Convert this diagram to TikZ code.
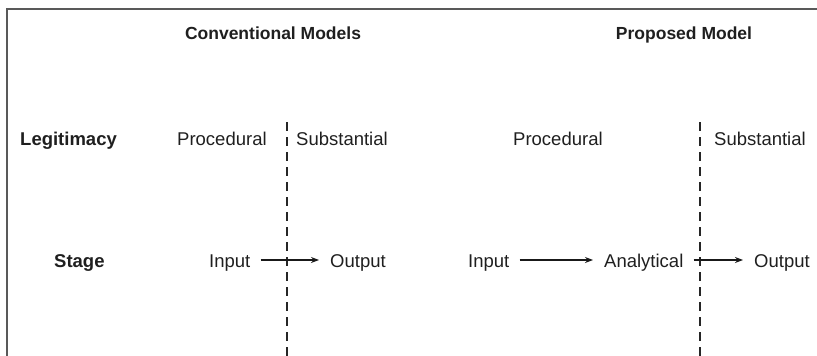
\documentclass[tikz,border=0pt]{standalone}
\usepackage{fontspec}
\setmainfont{Liberation Sans}
\usetikzlibrary{arrows.meta}
\begin{document}
\begin{tikzpicture}[x=1pt,y=-1pt,
  lbl/.style={inner sep=0pt,anchor=base west,text=black!88,font=\fontsize{18.5}{20}\selectfont},
  hdr/.style={inner sep=0pt,anchor=base,text=black!88,font=\fontsize{17.5}{20}\selectfont\bfseries},
  rowhdr/.style={inner sep=0pt,anchor=base west,text=black!88,font=\fontsize{18.5}{20}\selectfont\bfseries},
  flow/.style={line width=1.6pt,black!90,-{Stealth[length=8pt,width=6pt]},shorten <=10pt,shorten >=11pt},
  divider/.style={line width=1.9pt,black!85,dash pattern=on 9pt off 6pt},
  frame/.style={line width=1.5pt,black!65}]
\useasboundingbox (0,0) rectangle (817,356);
% frame
\coordinate (fb) at (7,357);
\coordinate (fc) at (7,9);
\coordinate (fr) at (818,9);
\draw[frame] (fb) -- (fc) -- (fr);
% headings
\node[hdr] (conv) at (273,39) {Conventional Models};
\node[hdr] (prop) at (684,39) {Proposed Model};
% row headers
\node[rowhdr] (legit) at (20,145) {Legitimacy};
\node[rowhdr] (stage) at (54,267) {Stage};
% legitimacy row
\node[lbl] (proc1) at (177,145) {Procedural};
\node[lbl] (subs1) at (296,145) {Substantial};
\node[lbl] (proc2) at (513,145) {Procedural};
\node[lbl] (subs2) at (714,145) {Substantial};
% stage row
\node[lbl] (in1) at (209,267) {Input};
\node[lbl] (out1) at (330,267) {Output};
\node[lbl] (in2) at (468,267) {Input};
\node[lbl] (ana) at (604,267) {Analytical};
\node[lbl] (out2) at (754,267) {Output};
% dividers
\coordinate (d1t) at (287,122);
\coordinate (d1b) at (287,356);
\coordinate (d2t) at (700,122);
\coordinate (d2b) at (700,356);
\draw[divider] (d1t) -- (d1b);
\draw[divider] (d2t) -- (d2b);
% arrows
\draw[flow] (in1.east |- 0,260) -- (out1.west |- 0,260);
\draw[flow] (in2.east |- 0,260) -- (ana.west |- 0,260);
\draw[flow] (ana.east |- 0,260) -- (out2.west |- 0,260);
\end{tikzpicture}
\end{document}
